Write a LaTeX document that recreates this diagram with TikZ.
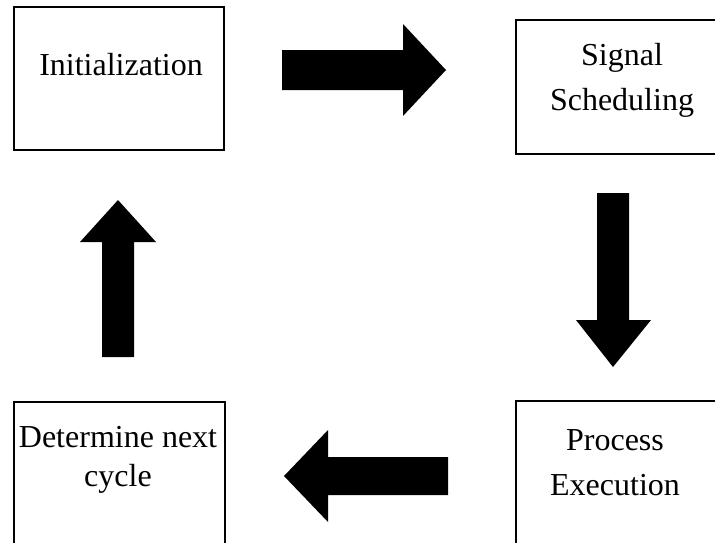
\documentclass[tikz,border=0pt]{standalone}
\usepackage{fontspec}
\setmainfont{Liberation Serif}
\usetikzlibrary{positioning}

\tikzset{
  stage/.style={draw=black,line width=1.2pt},
  label/.style={inner sep=0pt,align=center,font=\fontsize{32}{45}\selectfont},
  blockarrow/.style={fill=black}
}

\begin{document}
\begin{tikzpicture}[x=1pt,y=-1pt]
		\clip (0,0) rectangle (715,542);
		\fill[white] (0,0) rectangle (715,542);
		% boxes
		\draw[stage] (14,7) rectangle (224,150);
		\draw[stage] (516,20) rectangle (722,154);
		\draw[stage] (516,401) rectangle (722,550);
		\draw[stage] (14,402) rectangle (225,550);
		% texts
		\node[label,anchor=base] (init) at (121,75) {Initialization};
		\node[label,anchor=north] (sched) at (622,43) {Signal\\Scheduling};
		\node[label,anchor=north] (exec) at (615,429) {Process\\Execution};
		\node[label,anchor=north] (next) at (118,426) {Determine next\\[-6pt]cycle};
		% block arrows
		\fill[blockarrow] (282,50) -- (403,50) -- (403,24) -- (446,70) -- (403,116) -- (403,90) -- (282,90) -- cycle;
			\fill[blockarrow] (597,193) -- (629,193) -- (629,320) -- (651,320) -- (613,367) -- (576,320) -- (597,320) -- cycle;
		\fill[blockarrow] (448,457) -- (328,457) -- (328,430) -- (284,476) -- (328,522) -- (328,495) -- (448,495) -- cycle;
			\fill[blockarrow] (102,357) -- (102,242) -- (80,242) -- (118,200) -- (156,242) -- (134,242) -- (134,357) -- cycle;
	\end{tikzpicture}
\end{document}
